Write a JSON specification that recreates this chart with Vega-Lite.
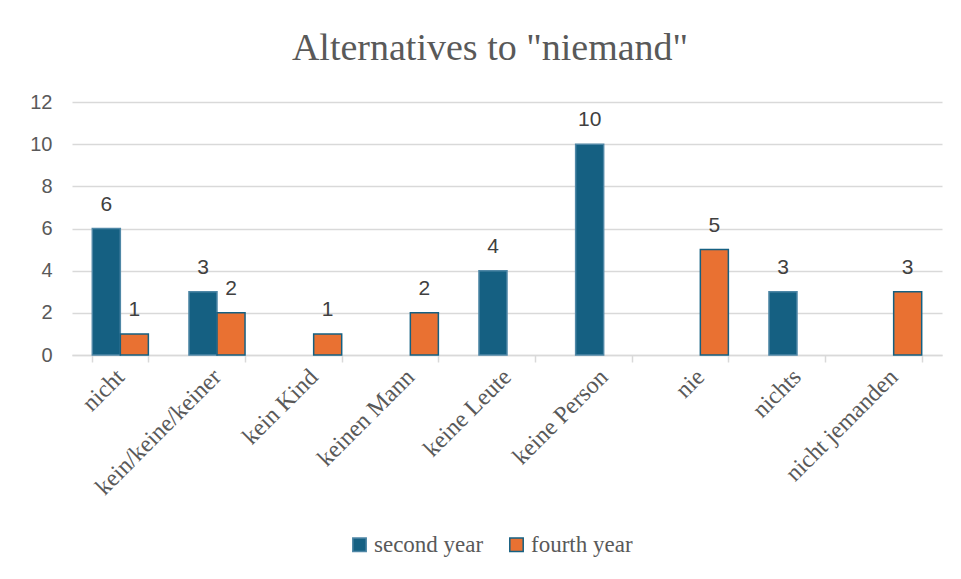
{
  "$schema": "https://vega.github.io/schema/vega-lite/v6.json",
  "autosize": {"type": "none"},
  "width": 870,
  "height": 253,
  "padding": {"left": 72, "top": 102, "right": 19, "bottom": 224},
  "background": "white",
  "title": {
    "text": "Alternatives to \"niemand\"",
    "font": "Liberation Serif",
    "fontSize": 38,
    "fontWeight": "normal",
    "color": "#595959",
    "anchor": "middle",
    "dx": -17,
    "offset": 24
  },
  "data": {
    "values": [
      {"category": "nicht", "series": "second year", "value": 6},
      {"category": "nicht", "series": "fourth year", "value": 1},
      {"category": "kein/keine/keiner", "series": "second year", "value": 3},
      {"category": "kein/keine/keiner", "series": "fourth year", "value": 2},
      {"category": "kein Kind", "series": "fourth year", "value": 1},
      {"category": "keinen Mann", "series": "fourth year", "value": 2},
      {"category": "keine Leute", "series": "second year", "value": 4},
      {"category": "keine Person", "series": "second year", "value": 10},
      {"category": "nie", "series": "fourth year", "value": 5},
      {"category": "nichts", "series": "second year", "value": 3},
      {"category": "nicht jemanden", "series": "fourth year", "value": 3}
    ]
  },
  "encoding": {
    "x": {
      "field": "category",
      "type": "nominal",
      "sort": null,
      "scale": {"paddingInner": 0.42, "paddingOuter": 0.21},
      "axis": {
        "title": null,
        "labelAngle": -45,
        "labelAlign": "right",
        "labelBaseline": "middle",
        "labelFont": "Liberation Serif",
        "labelFontSize": 24,
        "labelColor": "#595959",
        "labelPadding": 11,
        "domainColor": "#d9d9d9",
        "domainWidth": 1.5,
        "ticks": true,
        "tickBand": "extent",
        "tickColor": "#d9d9d9",
        "tickWidth": 1.5,
        "tickSize": 7,
        "grid": false
      }
    },
    "xOffset": {
      "field": "series",
      "type": "nominal",
      "sort": ["second year", "fourth year"],
      "scale": {"domain": ["second year", "fourth year"], "paddingInner": 0, "paddingOuter": 0}
    },
    "y": {
      "field": "value",
      "type": "quantitative",
      "scale": {"domain": [0, 12], "nice": false},
      "axis": {
        "title": null,
        "values": [0, 2, 4, 6, 8, 10, 12],
        "domain": false,
        "ticks": false,
        "grid": true,
        "gridColor": "#d9d9d9",
        "gridWidth": 1.5,
        "labelFont": "Liberation Sans",
        "labelFontSize": 20,
        "labelColor": "#595959",
        "labelPadding": 20
      }
    }
  },
  "layer": [
    {
      "mark": {"type": "bar", "strokeWidth": 1.5},
      "encoding": {
        "color": {
          "field": "series",
          "type": "nominal",
          "scale": {"domain": ["second year", "fourth year"], "range": ["#156082", "#E97132"]},
          "legend": {
            "title": null,
            "orient": "none",
            "direction": "horizontal",
            "legendX": 276,
            "legendY": 431,
            "padding": 0,
            "symbolType": "square",
            "symbolSize": 180,
            "symbolStrokeWidth": 1.5,
            "labelFont": "Liberation Serif",
            "labelFontSize": 23,
            "labelColor": "#595959",
            "labelOffset": 3,
            "columnPadding": 21
          }
        },
        "stroke": {
          "field": "series",
          "type": "nominal",
          "scale": {"domain": ["second year", "fourth year"], "range": ["#4f87a6", "#156082"]}
        }
      }
    },
    {
      "mark": {
        "type": "text",
        "font": "Liberation Sans",
        "fontSize": 21,
        "color": "#404040",
        "baseline": "alphabetic",
        "dy": -18
      },
      "encoding": {
        "text": {"field": "value", "type": "quantitative"}
      }
    }
  ],
  "config": {
    "view": {"stroke": null}
  }
}
